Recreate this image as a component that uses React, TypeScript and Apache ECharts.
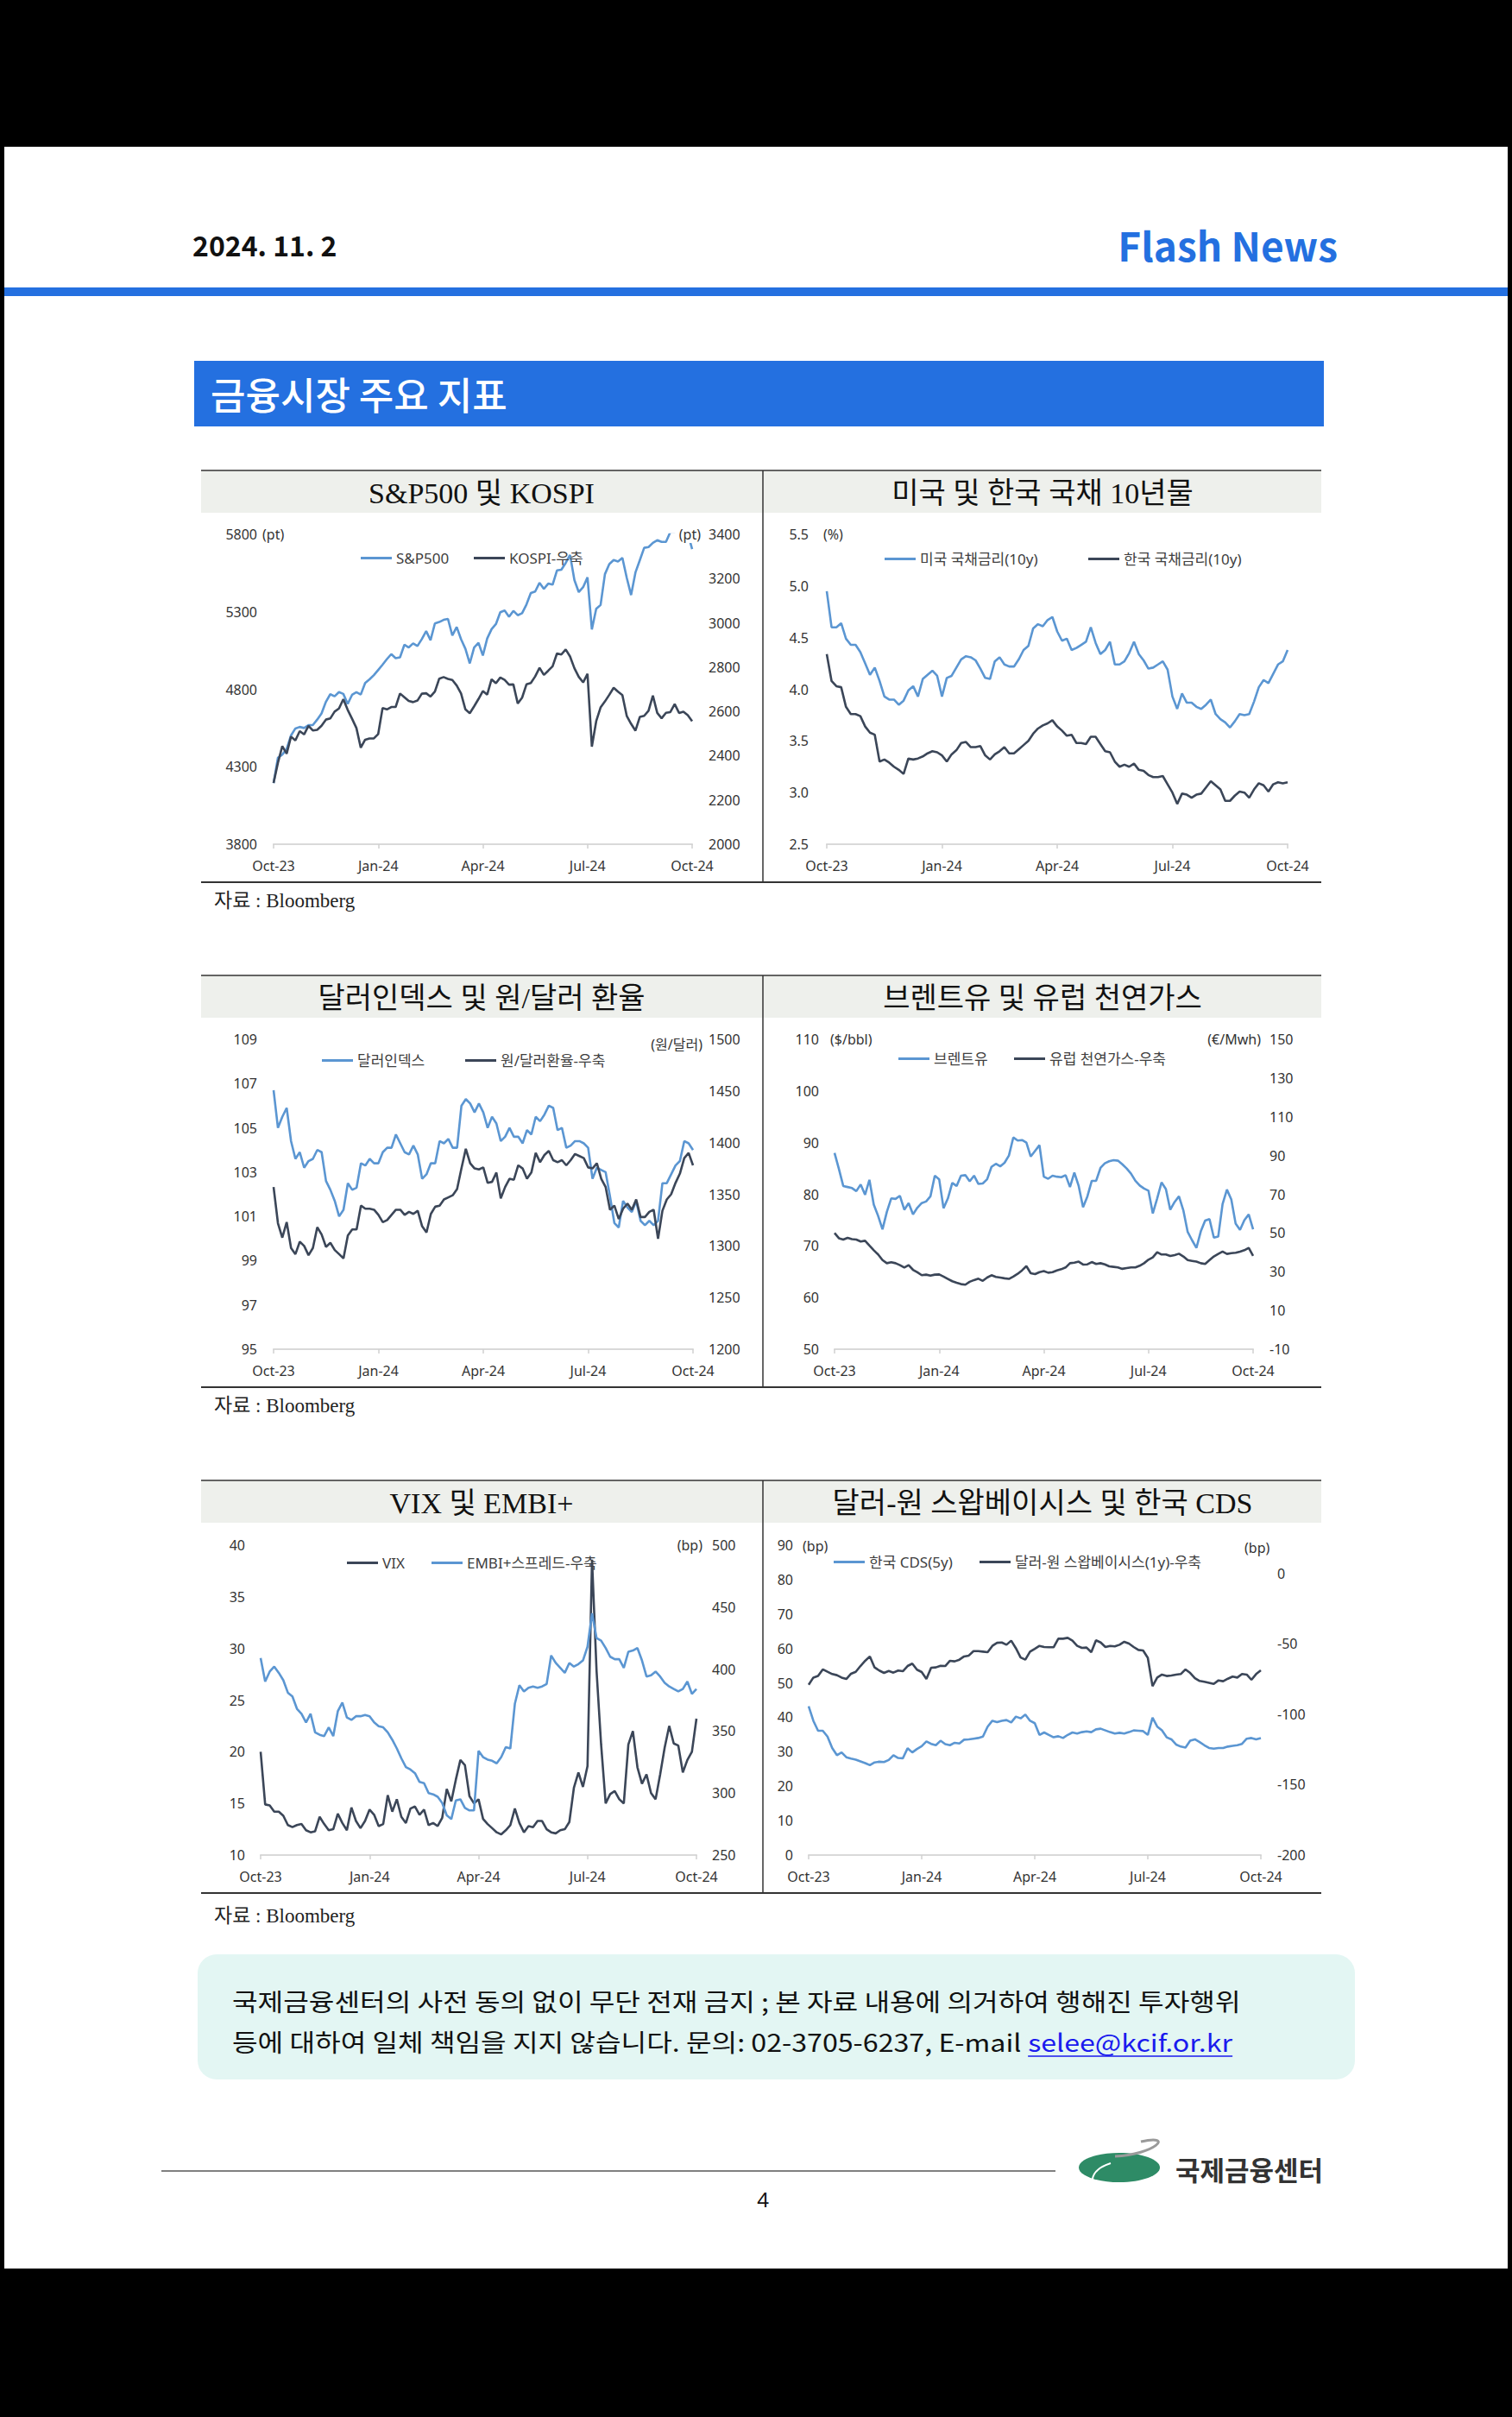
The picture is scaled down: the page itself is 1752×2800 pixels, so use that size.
import React, { useEffect, useRef } from 'react';
import * as echarts from 'echarts';

// ---------- shared x axis (97 evenly spaced observations, Oct-23 .. Oct-24) ----------
const N = 97;
const QUARTER = 24;
const categories: string[] = Array.from({ length: N }, (_, i) => `p${i}`);
const xTickLabels = ['Oct-23', 'Jan-24', 'Apr-24', 'Jul-24', 'Oct-24'];

// ---------- Chart 1: S&P500 & KOSPI ----------
const sp500 = [
  4194, 4358, 4378, 4415, 4502, 4547, 4557, 4550, 4568, 4569, 4604, 4644, 4719, 4768, 4755, 4782, 4770, 4705, 4764, 4781, 4766, 4840, 4864, 4891,
  4925, 4959, 4995, 5027, 5001, 5006, 5087, 5070, 5096, 5079, 5124, 5175, 5117, 5225, 5234, 5248, 5254, 5147, 5202, 5123, 5061, 4967, 5070, 5100,
  5018, 5128, 5188, 5221, 5297, 5308, 5268, 5306, 5278, 5291, 5347, 5421, 5431, 5487, 5448, 5482, 5475, 5567, 5572, 5615, 5667, 5505, 5427, 5459,
  5522, 5186, 5319, 5344, 5543, 5608, 5634, 5625, 5648, 5520, 5408, 5554, 5633, 5713, 5718, 5745, 5762, 5751, 5751, 5815, 5815, 5864, 5797, 5808,
  5705,
];
const kospi = [
  2277, 2368, 2443, 2409, 2486, 2469, 2511, 2496, 2535, 2514, 2517, 2535, 2563, 2568, 2599, 2613, 2655, 2607, 2567, 2525, 2436, 2472, 2478, 2478,
  2498, 2615, 2609, 2620, 2620, 2681, 2664, 2647, 2642, 2649, 2680, 2682, 2667, 2690, 2748, 2755, 2747, 2742, 2717, 2681, 2609, 2592, 2623, 2656,
  2692, 2676, 2745, 2727, 2753, 2742, 2721, 2722, 2636, 2662, 2722, 2728, 2758, 2797, 2765, 2784, 2804, 2862, 2857, 2880, 2848, 2795, 2756, 2731,
  2770, 2441, 2556, 2618, 2645, 2675, 2707, 2689, 2674, 2580, 2544, 2513, 2575, 2580, 2603, 2671, 2593, 2569, 2594, 2597, 2633, 2593, 2599, 2583,
  2556,
];

// ---------- Chart 2: US / KR 10y ----------
const us10y = [
  4.95, 4.60, 4.60, 4.64, 4.49, 4.43, 4.43, 4.36, 4.25, 4.14, 4.21, 4.08, 3.93, 3.90, 3.90, 3.85, 3.89, 3.99, 4.03, 3.93, 4.10, 4.14, 4.18, 4.13,
  3.93, 4.11, 4.13, 4.21, 4.29, 4.32, 4.31, 4.28, 4.20, 4.11, 4.10, 4.27, 4.31, 4.24, 4.22, 4.22, 4.29, 4.38, 4.42, 4.59, 4.63, 4.61, 4.67, 4.70,
  4.56, 4.47, 4.49, 4.38, 4.40, 4.43, 4.46, 4.60, 4.45, 4.34, 4.38, 4.46, 4.24, 4.24, 4.27, 4.35, 4.46, 4.34, 4.28, 4.20, 4.21, 4.24, 4.27, 4.19,
  3.93, 3.81, 3.96, 3.87, 3.87, 3.83, 3.81, 3.85, 3.90, 3.76, 3.71, 3.68, 3.63, 3.69, 3.76, 3.75, 3.76, 3.88, 4.02, 4.09, 4.06, 4.15, 4.24, 4.27,
  4.38,
];
const kr10y = [
  4.34, 4.08, 4.03, 4.02, 3.83, 3.76, 3.76, 3.74, 3.64, 3.58, 3.56, 3.30, 3.32, 3.29, 3.25, 3.22, 3.18, 3.33, 3.32, 3.33, 3.35, 3.38, 3.40, 3.39,
  3.36, 3.30, 3.37, 3.41, 3.48, 3.49, 3.44, 3.44, 3.45, 3.36, 3.32, 3.37, 3.40, 3.44, 3.38, 3.38, 3.42, 3.46, 3.50, 3.57, 3.62, 3.65, 3.67, 3.70,
  3.64, 3.60, 3.55, 3.56, 3.48, 3.48, 3.47, 3.54, 3.54, 3.47, 3.40, 3.39, 3.30, 3.25, 3.27, 3.25, 3.28, 3.22, 3.21, 3.17, 3.15, 3.15, 3.16, 3.08,
  3.00, 2.89, 2.99, 2.98, 2.95, 2.98, 2.99, 3.05, 3.11, 3.07, 3.03, 2.92, 2.92, 2.97, 3.01, 3.00, 2.95, 3.03, 3.09, 3.07, 3.01, 3.08, 3.10, 3.09,
  3.10,
];

// ---------- Chart 3: Dollar index & KRW/USD ----------
const dxy = [
  106.7, 105.0, 105.5, 105.9, 104.4, 103.6, 103.9, 103.2, 103.5, 103.6, 104.0, 103.9, 102.6, 102.2, 101.7, 101.0, 101.3, 102.5, 102.2, 102.3, 103.4, 103.3, 103.6, 103.4,
  103.4, 103.9, 104.1, 104.1, 104.7, 104.3, 103.9, 103.8, 104.2, 103.8, 102.7, 102.9, 103.4, 103.4, 104.4, 104.3, 104.5, 104.1, 104.1, 106.0, 106.3, 106.1, 105.7, 106.1,
  105.7, 105.0, 105.5, 105.2, 104.4, 104.6, 105.0, 104.6, 104.6, 104.3, 104.9, 104.7, 105.5, 105.3, 105.6, 106.0, 105.9, 104.9, 105.0, 104.1, 104.2, 104.4, 104.4, 104.3,
  104.1, 102.7, 103.2, 103.1, 103.0, 101.9, 100.7, 100.5, 101.7, 101.4, 101.2, 101.7, 100.8, 100.6, 100.8, 100.6, 100.8, 102.5, 102.5, 102.9, 103.3, 103.5, 104.4, 104.3,
  104.0,
];
const usdkrw = [
  1357, 1322, 1308, 1323, 1298, 1292, 1304, 1300, 1291, 1298, 1318, 1311, 1299, 1303, 1296, 1292, 1288, 1310, 1316, 1316, 1339, 1336, 1336, 1335,
  1330, 1323, 1325, 1330, 1335, 1335, 1330, 1333, 1331, 1334, 1319, 1313, 1331, 1338, 1339, 1345, 1347, 1349, 1355, 1375, 1394, 1380, 1375, 1374,
  1376, 1361, 1362, 1371, 1346, 1357, 1365, 1364, 1378, 1375, 1365, 1371, 1390, 1381, 1388, 1392, 1383, 1381, 1383, 1378, 1383, 1389, 1387, 1385,
  1376, 1375, 1380, 1365, 1357, 1335, 1339, 1326, 1336, 1341, 1335, 1345, 1328, 1328, 1333, 1335, 1307, 1334, 1345, 1350, 1361, 1370, 1385, 1390,
  1378,
];

// ---------- Chart 4: Brent & EU gas ----------
const brent = [
  88.0, 84.9, 81.6, 81.4, 81.2, 80.6, 81.9, 79.9, 82.8, 78.0, 75.8, 73.2, 76.6, 79.2, 79.1, 79.7, 77.0, 78.3, 76.1, 77.4, 78.3, 78.6, 79.6, 83.6,
  82.9, 77.3, 79.2, 82.2, 81.6, 83.6, 83.7, 82.5, 83.6, 82.0, 82.1, 82.9, 85.3, 85.9, 85.4, 86.1, 87.5, 91.0, 90.4, 90.5, 90.0, 87.3, 88.4, 89.5,
  83.4, 83.0, 83.6, 83.4, 83.3, 83.7, 81.4, 84.2, 81.6, 77.5, 79.6, 82.6, 82.6, 85.1, 86.0, 86.4, 86.6, 86.5, 85.8, 85.0, 84.0, 82.6, 81.7, 81.1,
  80.7, 76.3, 79.2, 82.3, 81.0, 77.0, 78.5, 79.6, 76.9, 72.7, 71.1, 69.6, 72.8, 74.9, 75.2, 71.6, 71.8, 78.1, 80.9, 79.0, 74.3, 73.1, 75.0, 76.1,
  73.2,
];
const euGas = [
  50.0, 47.3, 46.6, 47.5, 46.8, 46.6, 45.6, 46.0, 43.5, 41.1, 38.9, 36.0, 34.4, 34.9, 34.4, 33.4, 32.2, 33.4, 31.0, 29.7, 28.2, 28.5, 28.0, 28.5,
  28.6, 27.5, 26.3, 25.1, 24.3, 23.6, 23.3, 24.8, 25.7, 26.4, 25.3, 27.0, 28.2, 27.3, 27.0, 26.6, 26.3, 27.5, 28.9, 30.7, 32.9, 29.2, 28.8, 29.8,
  30.3, 29.5, 29.8, 30.7, 31.3, 32.2, 34.4, 34.7, 35.2, 33.7, 33.8, 35.0, 34.0, 34.4, 33.8, 32.8, 32.5, 32.2, 31.5, 31.9, 32.2, 32.2, 33.1, 34.4,
  36.2, 37.4, 40.1, 38.9, 38.9, 38.1, 38.6, 39.3, 37.9, 36.0, 35.6, 35.2, 34.4, 34.0, 36.0, 37.9, 39.2, 40.4, 39.2, 39.6, 39.8, 40.4, 41.1, 42.3,
  38.2,
];

// ---------- Chart 5: VIX & EMBI+ ----------
const vix = [
  20.0, 14.9, 14.8, 14.2, 14.2, 13.8, 12.9, 12.7, 12.9, 13.0, 12.4, 12.2, 12.3, 13.7, 13.0, 12.4, 12.5, 14.0, 13.1, 12.4, 14.6, 13.3, 12.6, 13.3,
  14.4, 13.9, 12.8, 13.0, 15.8, 14.2, 15.4, 13.7, 13.1, 14.5, 14.7, 13.9, 14.4, 12.9, 13.1, 12.8, 13.6, 16.4, 15.2, 17.3, 19.2, 18.7, 15.7, 15.0,
  15.4, 13.5, 13.0, 12.6, 12.2, 12.0, 12.4, 12.9, 14.5, 13.1, 12.2, 12.8, 12.7, 13.3, 13.3, 12.5, 12.2, 12.1, 12.4, 12.5, 13.2, 16.5, 18.0, 16.6,
  18.6, 38.6, 27.8, 20.7, 15.0, 15.9, 16.2, 15.4, 15.0, 20.7, 22.0, 18.5, 16.9, 17.8, 16.0, 15.4, 17.8, 20.4, 22.5, 20.8, 20.6, 18.0, 19.2, 20.0,
  23.2,
];
const embi = [
  409, 390, 398, 402, 397, 391, 381, 378, 368, 364, 357, 364, 349, 347, 346, 353, 346, 366, 373, 361, 359, 362, 362, 363,
  362, 357, 354, 353, 349, 343, 336, 328, 321, 319, 316, 309, 308, 300, 299, 297, 292, 282, 279, 294, 295, 288, 286, 286,
  334, 329, 327, 326, 324, 329, 337, 336, 372, 387, 382, 385, 386, 385, 386, 388, 411, 405, 401, 397, 405, 402, 404, 407,
  418, 445, 425, 423, 417, 410, 408, 408, 401, 414, 415, 417, 407, 394, 395, 398, 394, 389, 386, 384, 382, 384, 390, 380,
  384,
];

// ---------- Chart 6: Korea CDS & USD/KRW swap basis ----------
const koreaCds = [
  43.2, 39.0, 36.1, 36.1, 34.4, 31.1, 29.0, 29.8, 28.4, 28.0, 27.7, 27.2, 26.7, 26.1, 26.9, 27.1, 27.0, 27.6, 29.0, 28.2, 28.1, 31.0, 29.8, 30.8,
  31.6, 33.0, 32.3, 31.9, 33.2, 32.2, 31.9, 32.6, 32.4, 33.5, 33.6, 33.8, 34.0, 34.4, 37.3, 39.0, 38.6, 39.0, 39.2, 38.5, 40.2, 39.7, 40.8, 39.0,
  38.3, 34.9, 35.6, 34.9, 34.2, 34.5, 34.0, 34.9, 35.6, 35.3, 35.7, 35.9, 35.7, 36.5, 36.7, 36.2, 35.7, 35.3, 35.5, 35.3, 35.7, 36.2, 36.1, 36.0,
  34.9, 39.9, 37.3, 36.2, 34.2, 33.6, 32.1, 31.5, 31.2, 33.2, 33.6, 32.8, 31.9, 31.1, 30.9, 31.1, 31.1, 31.5, 31.7, 31.9, 32.3, 33.8, 34.0, 33.6,
  34.0,
];
const swapBasis = [
  -79.1, -74.0, -72.9, -68.2, -69.9, -71.5, -72.3, -74.0, -75.0, -71.3, -69.9, -65.8, -62.1, -59.0, -66.8, -69.0, -70.7, -69.3, -70.5, -69.0, -69.5, -65.8, -64.1, -68.4,
  -70.1, -75.0, -67.0, -66.8, -65.6, -65.8, -62.1, -62.5, -61.3, -59.0, -58.4, -55.2, -55.2, -55.6, -56.0, -51.5, -49.3, -49.1, -50.7, -47.8, -53.2, -59.7, -61.3, -55.6,
  -53.6, -51.5, -52.3, -52.5, -52.5, -46.4, -46.4, -45.8, -47.8, -51.5, -52.9, -52.7, -56.0, -47.6, -49.1, -52.3, -51.5, -51.9, -50.7, -48.6, -49.9, -52.3, -54.4, -54.8,
  -60.0, -80.1, -74.0, -71.9, -72.9, -72.5, -71.9, -71.5, -68.2, -70.7, -74.4, -76.4, -77.0, -77.7, -78.5, -76.0, -76.6, -74.8, -73.3, -74.0, -71.5, -71.9, -75.6, -71.5,
  -68.8,
];

// ---------- axis scales: [min, max, interval] ----------
const axSp = [3800, 5800, 500];
const axKospi = [2000, 3400, 200];
const axYield = [2.5, 5.5, 0.5];
const axDxy = [95, 109, 2];
const axKrw = [1200, 1500, 50];
const axBrent = [50, 110, 10];
const axGas = [-10, 150, 20];
const axVix = [10, 40, 5];
const axEmbi = [250, 500, 50];
const axCds = [0, 90, 10];
const axSwap = [-200, 20, 50];

// ---------- styles ----------
const BLUE = '#5b96d2';
const NAVY = '#3b4658';
const PAGE_BLUE = '#2470e0';
const SANS = "'Noto Sans', 'Noto Sans CJK KR', sans-serif";
const KR = "'Noto Sans CJK KR', 'Noto Sans', sans-serif";
const SERIF = "'Liberation Serif', 'Noto Sans CJK KR', serif";
const LABEL_COLOR = '#333333';

function xAxis(gridIndex: number) {
  const show = (i: number) => i % QUARTER === 0;
  return {
    type: 'category',
    gridIndex,
    data: categories,
    boundaryGap: false,
    axisLine: { show: true, onZero: false, lineStyle: { color: '#d9d9d9', width: 2 } },
    axisTick: { show: true, interval: (i: number) => show(i), length: 5, lineStyle: { color: '#d0d0d0', width: 1.5 } },
    axisLabel: {
      show: true,
      interval: (i: number) => show(i),
      formatter: (_v: string, i: number) => xTickLabels[i / QUARTER] ?? '',
      margin: 17,
      color: LABEL_COLOR,
      fontSize: 16,
      fontFamily: SANS,
    },
    splitLine: { show: false },
  };
}

function yAxis(gridIndex: number, position: string, ax: number[], margin: number, extra: any = {}) {
  return {
    type: 'value',
    gridIndex,
    position,
    min: ax[0],
    max: ax[1],
    interval: ax[2],
    axisLine: { show: false },
    axisTick: { show: false },
    splitLine: { show: false },
    axisLabel: {
      margin,
      color: LABEL_COLOR,
      fontSize: 16,
      fontFamily: SANS,
      formatter: (v: number) => String(v),
      ...extra,
    },
  };
}

function line(name: string, data: number[], xAxisIndex: number, yAxisIndex: number, color: string) {
  return {
    type: 'line',
    name,
    data,
    xAxisIndex,
    yAxisIndex,
    symbol: 'none',
    showSymbol: false,
    lineStyle: { color, width: 2.6 },
    itemStyle: { color },
    emphasis: { disabled: true },
    animation: false,
    z: 3,
  };
}

function leg(name: string, left: number, yc: number) {
  return {
    data: [name],
    left,
    top: yc - 9,
    icon: 'rect',
    itemWidth: 36,
    itemHeight: 3,
    itemGap: 0,
    padding: 0,
    selectedMode: false,
    textStyle: { color: '#404040', fontSize: 17, fontFamily: SANS },
  };
}

function txt(text: string, x: number, y: number, opts: any = {}) {
  const align = opts.align || 'left';
  return {
    type: 'text',
    x,
    y,
    scaleX: opts.scaleX ?? 1,
    z: opts.z ?? 10,
    style: {
      text,
      fill: opts.color || LABEL_COLOR,
      fontSize: opts.size || 16,
      fontFamily: opts.family || SANS,
      fontWeight: opts.weight || 'normal',
      textAlign: align,
      align,
      textVerticalAlign: 'middle',
      verticalAlign: 'middle',
      backgroundColor: opts.bg,
      padding: opts.bg ? [2, 2] : undefined,
    },
  };
}

function measure(text: string, font: string) {
  const ctx = document.createElement('canvas').getContext('2d');
  if (!ctx) return text.length * 20;
  ctx.font = font;
  return ctx.measureText(text).width;
}

function buildOption() {
  const grids = [
    { left: 317, top: 619, width: 485, height: 359 },
    { left: 958, top: 619, width: 534, height: 359 },
    { left: 317, top: 1204, width: 486, height: 359 },
    { left: 967, top: 1204, width: 485, height: 359 },
    { left: 302, top: 1790, width: 505, height: 359 },
    { left: 937, top: 1790, width: 524, height: 359 },
  ].map((g) => ({ ...g, containLabel: false, outerBoundsMode: 'none', show: false }));

  const xAxes = [0, 1, 2, 3, 4, 5].map((g) => xAxis(g));
  const yAxes = [
    yAxis(0, 'left', axSp, 19),
    yAxis(0, 'right', axKospi, 19),
    yAxis(1, 'left', axYield, 21, { formatter: (v: number) => v.toFixed(1) }),
    yAxis(2, 'left', axDxy, 19),
    yAxis(2, 'right', axKrw, 18),
    yAxis(3, 'left', axBrent, 18),
    yAxis(3, 'right', axGas, 19),
    yAxis(4, 'left', axVix, 18),
    yAxis(4, 'right', axEmbi, 18),
    yAxis(5, 'left', axCds, 18),
    yAxis(5, 'right', axSwap, 19, { showMaxLabel: false }),
  ];

  const series = [
    line('S&P500', sp500, 0, 0, BLUE),
    line('KOSPI-우축', kospi, 0, 1, NAVY),
    line('미국 국채금리(10y)', us10y, 1, 2, BLUE),
    line('한국 국채금리(10y)', kr10y, 1, 2, NAVY),
    line('달러인덱스', dxy, 2, 3, BLUE),
    line('원/달러환율-우축', usdkrw, 2, 4, NAVY),
    line('브렌트유', brent, 3, 5, BLUE),
    line('유럽 천연가스-우축', euGas, 3, 6, NAVY),
    line('VIX', vix, 4, 7, NAVY),
    line('EMBI+스프레드-우축', embi, 4, 8, BLUE),
    line('한국 CDS(5y)', koreaCds, 5, 9, BLUE),
    line('달러-원 스왑베이시스(1y)-우축', swapBasis, 5, 10, NAVY),
  ];

  const legends = [
    leg('S&P500', 418, 647),
    leg('KOSPI-우축', 549, 647),
    leg('미국 국채금리(10y)', 1025, 648),
    leg('한국 국채금리(10y)', 1261, 648),
    leg('달러인덱스', 373, 1229),
    leg('원/달러환율-우축', 539, 1229),
    leg('브렌트유', 1041, 1227),
    leg('유럽 천연가스-우축', 1175, 1227),
    leg('VIX', 402, 1811),
    leg('EMBI+스프레드-우축', 500, 1811),
    leg('한국 CDS(5y)', 966, 1810),
    leg('달러-원 스왑베이시스(1y)-우축', 1135, 1810),
  ];

  const g: any[] = [];
  // page frame (scan borders)
  g.push({ type: 'rect', shape: { x: 0, y: 0, width: 1752, height: 170 }, style: { fill: '#000' }, z: 0 });
  g.push({ type: 'rect', shape: { x: 0, y: 2628, width: 1752, height: 172 }, style: { fill: '#000' }, z: 0 });
  g.push({ type: 'rect', shape: { x: 0, y: 170, width: 5, height: 2458 }, style: { fill: '#000' }, z: 0 });
  g.push({ type: 'rect', shape: { x: 1747, y: 170, width: 5, height: 2458 }, style: { fill: '#000' }, z: 0 });

  // header
  g.push(txt('2024. 11. 2', 223, 283, { size: 32, weight: 'bold', family: KR, color: '#111' }));
  g.push(txt('Flash News', 1550, 283, { size: 46, weight: 'bold', family: KR, color: PAGE_BLUE, align: 'right' }));
  g.push({ type: 'rect', shape: { x: 5, y: 333, width: 1742, height: 10 }, style: { fill: PAGE_BLUE }, z: 0 });
  g.push({ type: 'rect', shape: { x: 225, y: 418, width: 1309, height: 76 }, style: { fill: PAGE_BLUE }, z: 0 });
  g.push(txt('금융시장 주요 지표', 244, 456, { size: 44, weight: 500, family: KR, color: '#ffffff' }));

  // panels
  const rows = [
    { T: 545, B: 594, Bt: 1022, src: 1043 },
    { T: 1130, B: 1179, Bt: 1607, src: 1628 },
    { T: 1715, B: 1764, Bt: 2193, src: 2219 },
  ];
  const titles = [
    ['S&P500 및 KOSPI', '미국 및 한국 국채 10년물'],
    ['달러인덱스 및 원/달러 환율', '브렌트유 및 유럽 천연가스'],
    ['VIX 및 EMBI+', '달러-원 스왑베이시스 및 한국 CDS'],
  ];
  rows.forEach((r, k) => {
    g.push({ type: 'rect', shape: { x: 233, y: r.T, width: 1298, height: r.B - r.T }, style: { fill: '#eef0ec' }, z: 0 });
    g.push({ type: 'line', shape: { x1: 233, y1: r.T, x2: 1531, y2: r.T }, style: { stroke: '#333', lineWidth: 1.5 }, z: 1 });
    g.push({ type: 'line', shape: { x1: 233, y1: r.Bt, x2: 1531, y2: r.Bt }, style: { stroke: '#333', lineWidth: 1.8 }, z: 1 });
    g.push({ type: 'line', shape: { x1: 884, y1: r.T, x2: 884, y2: r.Bt }, style: { stroke: '#333', lineWidth: 1.5 }, z: 1 });
    g.push(txt(titles[k][0], 558, (r.T + r.B) / 2 + 2, { size: 34, family: SERIF, color: '#111', align: 'center' }));
    g.push(txt(titles[k][1], 1208, (r.T + r.B) / 2 + 2, { size: 34, family: SERIF, color: '#111', align: 'center' }));
    g.push(txt('자료 : Bloomberg', 248, r.src, { size: 23, family: SERIF, color: '#222' }));
  });

  // axis unit labels
  g.push(txt('(pt)', 304, 619, {}));
  g.push(txt('(pt)', 814, 619, { align: 'right', bg: '#ffffff' }));
  g.push(txt('(%)', 954, 619, {}));
  g.push(txt('(원/달러)', 814, 1210, { align: 'right' }));
  g.push(txt('($/bbl)', 962, 1204, {}));
  g.push(txt('(€/Mwh)', 1461, 1204, { align: 'right' }));
  g.push(txt('(bp)', 814, 1790, { align: 'right' }));
  g.push(txt('(bp)', 930, 1791, {}));
  g.push(txt('(bp)', 1442, 1793, {}));

  // disclaimer box
  g.push({ type: 'rect', shape: { x: 229, y: 2264, width: 1341, height: 145, r: 22 }, style: { fill: '#e3f6f3' }, z: 0 });
  const footSize = 28;
  const footFont = `${footSize}px 'Noto Sans CJK KR'`;
  const line1 = '국제금융센터의 사전 동의 없이 무단 전재 금지 ; 본 자료 내용에 의거하여 행해진 투자행위';
  const line2 = '등에 대하여 일체 책임을 지지 않습니다. 문의: 02-3705-6237, E-mail ';
  const email = 'selee@kcif.or.kr';
  const sx = Math.min(1.15, Math.max(1, 1219 / measure(line1, footFont)));
  g.push(txt(line1, 269, 2318, { size: footSize, family: KR, color: '#111', scaleX: sx }));
  g.push(txt(line2, 269, 2365, { size: footSize, family: KR, color: '#111', scaleX: sx }));
  const ex = 269 + measure(line2, footFont) * sx;
  const ew = measure(email, footFont) * sx;
  g.push(txt(email, ex, 2365, { size: footSize, family: KR, color: '#1a1aee', scaleX: sx }));
  g.push({ type: 'line', shape: { x1: ex, y1: 2382, x2: ex + ew, y2: 2382 }, style: { stroke: '#1a1aee', lineWidth: 1.5 }, z: 10 });

  // footer
  g.push({ type: 'line', shape: { x1: 187, y1: 2515, x2: 1223, y2: 2515 }, style: { stroke: '#808080', lineWidth: 2 }, z: 1 });
  g.push(txt('4', 884, 2547, { size: 24, family: SANS, color: '#111', align: 'center' }));
  g.push({ type: 'ellipse', shape: { cx: 1297, cy: 2511, rx: 47, ry: 17 }, style: { fill: '#2e8b66' }, z: 2 });
  g.push({ type: 'bezierCurve', shape: { x1: 1266, y1: 2524, x2: 1287, y2: 2506, cpx1: 1268, cpy1: 2512 }, style: { stroke: '#ffffff', lineWidth: 2, fill: 'none' }, z: 3 });
  g.push({ type: 'bezierCurve', shape: { x1: 1292, y1: 2498, x2: 1322, y2: 2481, cpx1: 1338, cpy1: 2496, cpx2: 1362, cpy2: 2472 }, style: { stroke: '#9a9a9a', lineWidth: 3, fill: 'none' }, z: 3 });
  g.push(txt('국제금융센터', 1362, 2512, { size: 31, weight: 'bold', family: KR, color: '#333' }));

  return {
    animation: false,
    backgroundColor: '#ffffff',
    grid: grids,
    xAxis: xAxes,
    yAxis: yAxes,
    series,
    legend: legends,
    graphic: { elements: g },
  };
}

export default function App() {
  const ref = useRef<HTMLDivElement>(null);
  useEffect(() => {
    document.body.style.margin = '0';
    if (!ref.current) return;
    const chart = echarts.init(ref.current, null, { renderer: 'svg' });
    chart.setOption(buildOption() as any);
    return () => chart.dispose();
  }, []);
  return <div ref={ref} style={{ position: 'absolute', left: 0, top: 0, width: 1752, height: 2800 }} />;
}
